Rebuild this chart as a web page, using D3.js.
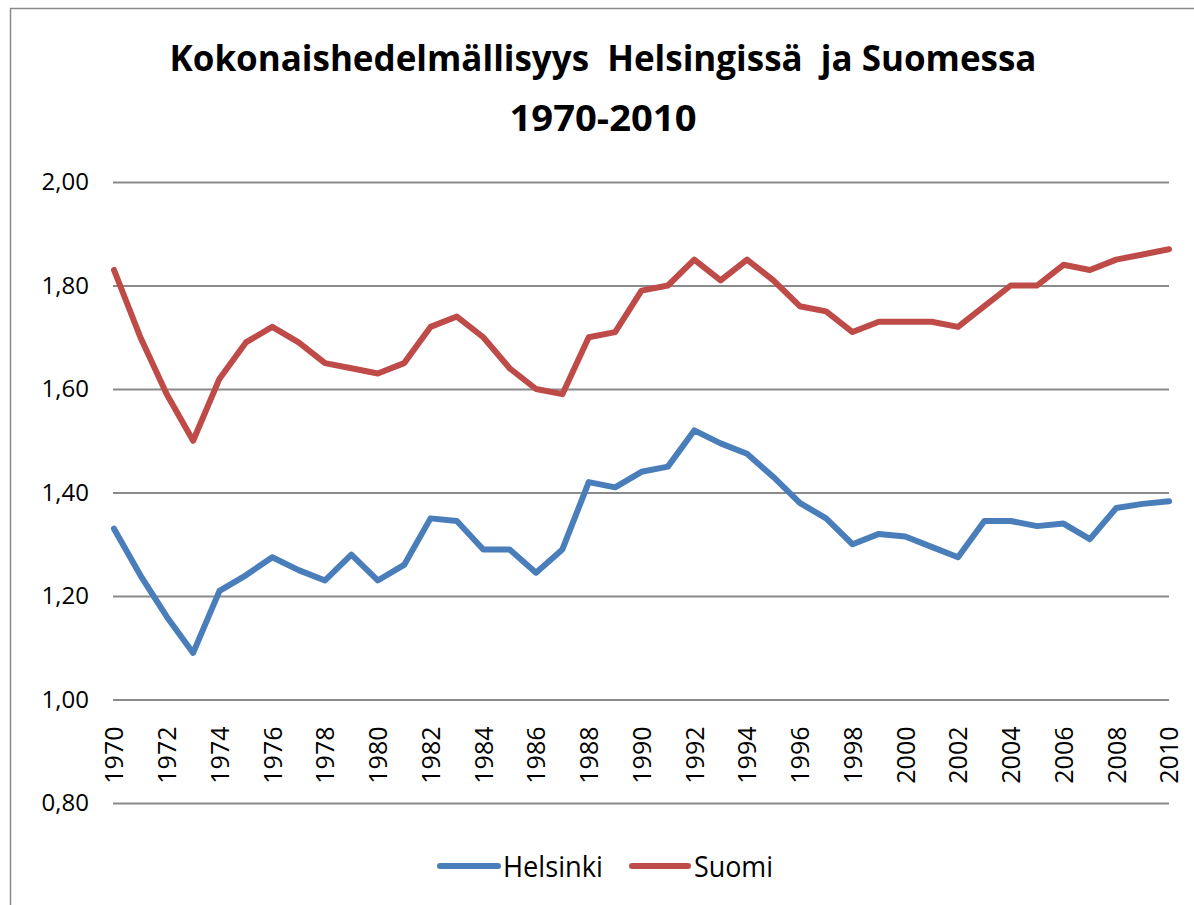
<!DOCTYPE html>
<html>
<head>
<meta charset="utf-8">
<script src="https://cdn.jsdelivr.net/npm/d3@7"></script>
<style>
  body { margin: 0; background: #fff; }
  text { font-family: "Open Sans", sans-serif; fill: #000; }
</style>
</head>
<body>
<div id="chart"></div>
<script>
// values
const years = d3.range(1970, 2011);
const tickYears = d3.range(1970, 2011, 2);
const yTicks = [0.8, 1.0, 1.2, 1.4, 1.6, 1.8, 2.0];

const helsinki = [1.33, 1.24, 1.16, 1.09, 1.21, 1.24, 1.275, 1.25, 1.23, 1.28,
  1.23, 1.26, 1.35, 1.345, 1.29, 1.29, 1.245, 1.29, 1.42, 1.41,
  1.44, 1.45, 1.52, 1.495, 1.475, 1.43, 1.38, 1.35, 1.30, 1.32,
  1.315, 1.295, 1.275, 1.345, 1.345, 1.335, 1.34, 1.31, 1.37, 1.378, 1.383];

const suomi = [1.83, 1.70, 1.59, 1.50, 1.62, 1.69, 1.72, 1.69, 1.65, 1.64,
  1.63, 1.65, 1.72, 1.74, 1.70, 1.64, 1.60, 1.59, 1.70, 1.71,
  1.79, 1.80, 1.85, 1.81, 1.85, 1.81, 1.76, 1.75, 1.71, 1.73,
  1.73, 1.73, 1.72, 1.76, 1.80, 1.80, 1.84, 1.83, 1.85, 1.86, 1.87];

const seriesNames = ["Helsinki", "Suomi"];
const seriesColors = ["#4a7ebb", "#be4b48"];

const width = 1194, height = 905;

const svg = d3.select("#chart").append("svg")
  .attr("width", width)
  .attr("height", height);

// chart area frame
svg.append("rect")
  .attr("x", 10.5).attr("y", 8.5)
  .attr("width", 1300).attr("height", 1000)
  .attr("fill", "none")
  .attr("stroke", "#8a8a8a")
  .attr("stroke-width", 1.5);

// title
svg.append("text")
  .attr("x", 603).attr("y", 71)
  .attr("text-anchor", "middle")
  .attr("font-weight", "bold")
  .attr("font-size", 36)
  .style("white-space", "pre")
  .attr("textLength", 867)
  .attr("lengthAdjust", "spacingAndGlyphs")
  .text("Kokonaishedelmällisyys  Helsingissä  ja Suomessa");

svg.append("text")
  .attr("x", 603).attr("y", 131)
  .attr("text-anchor", "middle")
  .attr("font-weight", "bold")
  .attr("font-size", 36)
  .attr("textLength", 187)
  .attr("lengthAdjust", "spacingAndGlyphs")
  .text("1970-2010");

const x = d3.scaleLinear().domain([1970, 2010]).range([114, 1169]);
const y = d3.scaleLinear().domain([0.8, 2.0]).range([803, 182]);

const fmt = d => d3.format(".2f")(d).replace(".", ",");

// y axis: gridlines + labels
const yAxis = d3.axisLeft(y)
  .tickValues(yTicks)
  .tickSize(-(x.range()[1] - x.range()[0] + 1))
  .tickFormat(fmt);

const gY = svg.append("g")
  .attr("class", "axis y-axis")
  .attr("transform", `translate(${x.range()[0] - 1}, 0)`)
  .call(yAxis);
gY.select(".domain").remove();
gY.selectAll(".tick line")
  .attr("stroke", "#8a8a8a")
  .attr("stroke-width", 2);
gY.selectAll(".tick text")
  .attr("x", 89 - (x.range()[0] - 1))
  .attr("font-size", 24)
  .attr("fill", "#000")
  .style("font-family", "'Open Sans', sans-serif");

// x labels, rotated, hanging below the 1,00 line
const xAxis = d3.axisBottom(x)
  .tickValues(tickYears)
  .tickSize(0)
  .tickFormat(d3.format("d"));

const gX = svg.append("g")
  .attr("class", "axis x-axis")
  .attr("transform", `translate(0, ${y(1.0)})`)
  .call(xAxis);
gX.select(".domain").remove();
gX.selectAll(".tick text")
  .attr("transform", "rotate(-90)")
  .attr("x", -27)
  .attr("y", 0)
  .attr("dy", "0.35em")
  .attr("text-anchor", "end")
  .attr("font-size", 25)
  .attr("fill", "#000")
  .style("font-family", "'Open Sans', sans-serif");

// lines
const line = d3.line()
  .x((d, i) => x(years[i]))
  .y(d => y(d));

[helsinki, suomi].forEach((vals, i) => {
  svg.append("path")
    .datum(vals)
    .attr("fill", "none")
    .attr("stroke", seriesColors[i])
    .attr("stroke-width", 6)
    .attr("stroke-linejoin", "round")
    .attr("stroke-linecap", "round")
    .attr("d", line);
});

// legend
const legendItems = [
  { x1: 440, x2: 498, tx: 503, tl: 100 },
  { x1: 632, x2: 688, tx: 694, tl: 79 }
];
const legend = svg.append("g").attr("class", "legend");
legendItems.forEach((it, i) => {
  legend.append("line")
    .attr("x1", it.x1).attr("x2", it.x2)
    .attr("y1", 866).attr("y2", 866)
    .attr("stroke", seriesColors[i])
    .attr("stroke-width", 6)
    .attr("stroke-linecap", "round");
  legend.append("text")
    .attr("x", it.tx).attr("y", 877)
    .attr("font-size", 30)
    .attr("textLength", it.tl)
    .attr("lengthAdjust", "spacingAndGlyphs")
    .text(seriesNames[i]);
});
</script>
</body>
</html>
